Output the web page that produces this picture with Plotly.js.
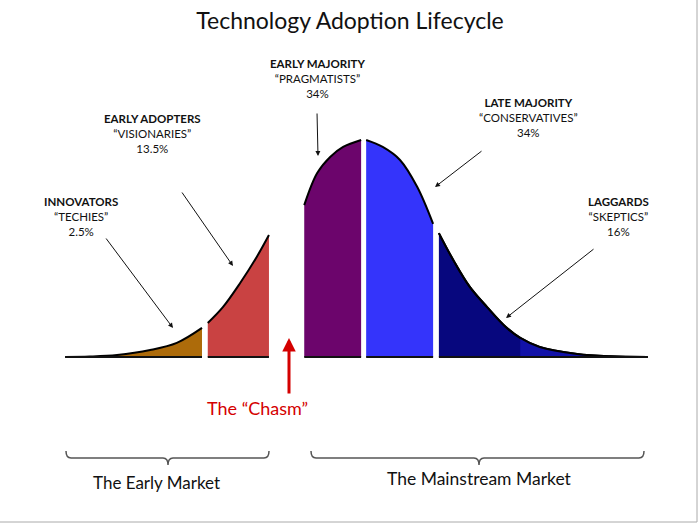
<!DOCTYPE html>
<html><head><meta charset="utf-8">
<script src="https://cdn.plot.ly/plotly-3.0.1.min.js"></script>
<style>html,body{margin:0;padding:0;background:#fff}#chart{width:700px;height:525px}</style>
</head><body><div id="chart"></div>
<script>
// Curve samples: x in standard deviations from the mean, y = relative density (peak = 1)
const innovatorsX = [-4.15, -3.81, -3.43, -2.97, -2.60, -2.25];
const innovatorsY = [0, 0.002, 0.009, 0.032, 0.065, 0.134];
const earlyAdoptersX = [-2.17, -1.96, -1.72, -1.49, -1.32];
const earlyAdoptersY = [0.157, 0.230, 0.341, 0.461, 0.562];
const earlyMajorityX = [-0.83, -0.65, -0.47, -0.29, -0.04];
const earlyMajorityY = [0.700, 0.848, 0.922, 0.968, 1.0];
const lateMajorityX = [0.03, 0.26, 0.50, 0.74, 0.96];
const lateMajorityY = [1.0, 0.968, 0.908, 0.783, 0.613];
const laggardsX = [1.04, 1.24, 1.47, 1.71, 1.97, 2.17, 2.44, 2.96, 3.42, 3.94];
const laggardsY = [0.571, 0.447, 0.323, 0.230, 0.138, 0.088, 0.046, 0.014, 0.003, 0];

const segmentNames = ['INNOVATORS', 'EARLY ADOPTERS', 'EARLY MAJORITY', 'LATE MAJORITY', 'LAGGARDS'];
const segmentNicknames = ['“TECHIES”', '“VISIONARIES”', '“PRAGMATISTS”', '“CONSERVATIVES”', '“SKEPTICS”'];
const segmentShares = ['2.5%', '13.5%', '34%', '34%', '16%'];
const marketLabels = ['The Early Market', 'The Mainstream Market'];
const chasmLabel = 'The “Chasm”';
const titleText = 'Technology Adoption Lifecycle';

const segX = [innovatorsX, earlyAdoptersX, earlyMajorityX, lateMajorityX, laggardsX];
const segY = [innovatorsY, earlyAdoptersY, earlyMajorityY, lateMajorityY, laggardsY];
const segColors = ['#ad6b0a', '#c94242', '#6c056c', '#3434fb', '#07077e'];
const tailColor = '#1212a8';
const tailStart = 5;

const W = 700, H = 525;
const PX = p => p / W;
const PY = p => 1 - p / H;
const P = (x, y) => PX(x).toFixed(5) + ',' + PY(y).toFixed(5);

const traces = [];
const spl = {shape: 'spline', smoothing: 1};
segX.forEach((xs, i) => {
  traces.push({x: xs, y: segY[i], mode: 'lines', fill: 'tozeroy', fillcolor: segColors[i],
    line: Object.assign({color: '#000', width: 2}, spl), hoverinfo: 'skip'});
});
// lighter far tail of the laggards
traces.push({x: laggardsX.slice(tailStart), y: laggardsY.slice(tailStart), mode: 'lines', fill: 'tozeroy',
  fillcolor: tailColor, line: Object.assign({color: 'rgba(0,0,0,0)', width: 0}, spl), hoverinfo: 'skip'});
traces.push({x: laggardsX, y: laggardsY, mode: 'lines',
  line: Object.assign({color: '#000', width: 2}, spl), hoverinfo: 'skip'});

const shapes = [];
segX.forEach(xs => {
  shapes.push({type: 'line', xref: 'x', yref: 'y', x0: xs[0], x1: xs[xs.length - 1], y0: 0, y1: 0,
    line: {color: '#111', width: 2}});
});
function brace(x0, xm, x1, yTop, yLine, yTip) {
  return 'M' + P(x0, yTop) + ' Q' + P(x0, yLine) + ' ' + P(x0 + 5, yLine) +
    ' L' + P(xm - 5, yLine) + ' Q' + P(xm, yLine) + ' ' + P(xm, yTip) +
    ' Q' + P(xm, yLine) + ' ' + P(xm + 5, yLine) +
    ' L' + P(x1 - 5, yLine) + ' Q' + P(x1, yLine) + ' ' + P(x1, yTop);
}
shapes.push({type: 'path', xref: 'paper', yref: 'paper', path: brace(66, 168, 269, 451, 458, 465), line: {color: '#555', width: 1.5}});
shapes.push({type: 'path', xref: 'paper', yref: 'paper', path: brace(311, 479, 644, 451, 458, 465), line: {color: '#555', width: 1.5}});
// frame
shapes.push({type: 'line', xref: 'paper', yref: 'paper', x0: PX(697), x1: PX(697), y0: PY(0), y1: PY(522), line: {color: '#aaa', width: 1}});
shapes.push({type: 'line', xref: 'paper', yref: 'paper', x0: PX(0), x1: PX(697), y0: PY(522), y1: PY(522), line: {color: '#aaa', width: 1}});

const FONT = 'Lato, "Open Sans", sans-serif';
const annotations = [];
const labelPos = [[81, 216], [152, 133], [317, 78], [528, 117], [618, 216]];
segmentNames.forEach((n, i) => {
  annotations.push({xref: 'paper', yref: 'paper', x: PX(labelPos[i][0]), y: PY(labelPos[i][1]),
    xanchor: 'center', yanchor: 'middle', align: 'center', showarrow: false,
    text: '<b>' + n + '</b><br>' + segmentNicknames[i] + '<br>' + segmentShares[i],
    font: {family: FONT, size: 11.5, color: '#111'}});
});
const arrows = [[105, 237, 173, 328], [181, 191, 233, 266], [317, 112, 318, 156], [483, 150, 435, 187], [595, 248, 506, 318]];
arrows.forEach(a => {
  annotations.push({xref: 'paper', yref: 'paper', x: PX(a[2]), y: PY(a[3]), ax: a[0] - a[2], ay: a[1] - a[3],
    text: '', showarrow: true, arrowhead: 2, arrowsize: 1, arrowwidth: 1, arrowcolor: '#111', standoff: 0});
});
annotations.push({xref: 'paper', yref: 'paper', x: PX(289), y: PY(338), ax: 0, ay: 57,
  text: '', showarrow: true, arrowhead: 2, arrowsize: 0.9, arrowwidth: 3, arrowcolor: '#d40000', standoff: 0});
annotations.push({xref: 'paper', yref: 'paper', x: PX(257), y: PY(408), xanchor: 'center', yanchor: 'middle',
  showarrow: false, text: chasmLabel, font: {family: FONT, size: 18, color: '#d40000'}});
annotations.push({xref: 'paper', yref: 'paper', x: PX(156), y: PY(482), xanchor: 'center', yanchor: 'middle',
  showarrow: false, text: marketLabels[0], font: {family: FONT, size: 17, color: '#111'}});
annotations.push({xref: 'paper', yref: 'paper', x: PX(479), y: PY(478), xanchor: 'center', yanchor: 'middle',
  showarrow: false, text: marketLabels[1], font: {family: FONT, size: 17.5, color: '#111'}});

const layout = {
  width: W, height: H, autosize: false, showlegend: false,
  margin: {l: 0, r: 0, t: 0, b: 0, pad: 0},
  paper_bgcolor: '#fff', plot_bgcolor: '#fff',
  title: {text: titleText, font: {family: FONT, size: 23, color: '#111'},
    x: 0.5, xanchor: 'center', xref: 'paper', y: PY(21), yanchor: 'middle', yref: 'container'},
  xaxis: {range: [-364 / 72, 336 / 72], visible: false, fixedrange: true},
  yaxis: {range: [-168 / 217, 357 / 217], visible: false, fixedrange: true},
  shapes: shapes, annotations: annotations
};
Plotly.newPlot('chart', traces, layout, {displayModeBar: false, staticPlot: true});
</script></body></html>
